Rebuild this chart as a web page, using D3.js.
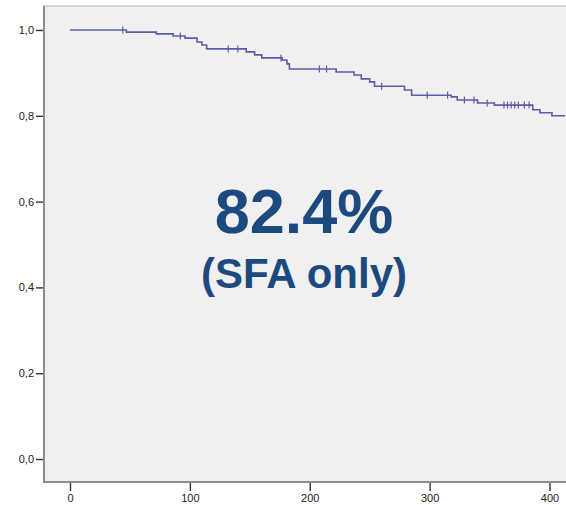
<!DOCTYPE html>
<html lang="en">
<head>
  <meta charset="utf-8">
  <title>SFA survival</title>
  <script src="https://cdn.jsdelivr.net/npm/d3@7"></script>
  <style>
    body { margin: 0; background: #ffffff; }
    svg { display: block; }
  </style>
</head>
<body>
<script>
  // event times (days) and survival after each event
  var eventTimes = [0, 47, 72, 86, 96, 106, 110, 114, 147, 154, 160, 177, 181, 183,
    222, 237, 243, 250, 254, 279, 285, 318, 323, 340, 354, 386, 392, 402, 413];
  var survival = [1.000, 0.995, 0.991, 0.986, 0.981, 0.972, 0.965, 0.956, 0.949, 0.942,
    0.935, 0.930, 0.921, 0.909, 0.902, 0.895, 0.886, 0.879, 0.869, 0.860, 0.848,
    0.844, 0.837, 0.830, 0.825, 0.814, 0.807, 0.800, 0.800];
  // censored observations (days)
  var censorTimes = [44, 92, 132, 140, 176, 208, 214, 260, 298, 315, 329, 337, 348,
    362, 365, 368, 371, 374, 379, 383];
  var xTicks = [0, 100, 200, 300, 400];
  var yTicks = [0, 0.2, 0.4, 0.6, 0.8, 1.0];

  var w = 566, h = 505;
  var mLeft = 44, mTop = 6, mBottom = 482;

  var svg = d3.select("body").append("svg")
    .attr("width", w)
    .attr("height", h);

  var x = d3.scaleLinear().domain([0, 400]).range([70, 549.5]);
  var y = d3.scaleLinear().domain([0, 1]).range([459, 30]);

  // plot background
  svg.append("rect")
    .attr("x", mLeft)
    .attr("y", mTop)
    .attr("width", w - mLeft + 5)
    .attr("height", mBottom - mTop)
    .attr("fill", "#f0f0f0")
    .attr("stroke", "#b8b8b8")
    .attr("stroke-width", 1);

  // axes
  var yAxis = d3.axisLeft(y).tickValues(yTicks).tickSize(8).tickPadding(2)
    .tickFormat(function (d) { return d3.format(".1f")(d).replace(".", ","); });
  var xAxis = d3.axisBottom(x).tickValues(xTicks).tickSize(9).tickPadding(3)
    .tickFormat(d3.format("d"));

  var gy = svg.append("g")
    .attr("transform", "translate(" + mLeft + ",0)")
    .call(yAxis);
  var gx = svg.append("g")
    .attr("transform", "translate(0," + mBottom + ")")
    .call(xAxis);

  [gx, gy].forEach(function (g) {
    g.select(".domain").remove();
    g.selectAll(".tick line").attr("stroke", "#333").attr("stroke-width", 1.4);
    g.selectAll(".tick text")
      .attr("fill", "#222")
      .attr("font-family", "Arial, 'Liberation Sans', sans-serif")
      .attr("font-size", "11px");
  });

  // axis lines
  svg.append("line")
    .attr("x1", mLeft).attr("x2", mLeft)
    .attr("y1", mTop).attr("y2", mBottom + 1)
    .attr("stroke", "#8c8c8c").attr("stroke-width", 2);
  svg.append("line")
    .attr("x1", mLeft).attr("x2", w)
    .attr("y1", mBottom).attr("y2", mBottom)
    .attr("stroke", "#8c8c8c").attr("stroke-width", 2);

  // survival curve
  var pts = eventTimes.map(function (t, i) { return [t, survival[i]]; });
  var line = d3.line()
    .x(function (d) { return x(d[0]); })
    .y(function (d) { return y(d[1]); })
    .curve(d3.curveStepAfter);

  svg.append("path")
    .datum(pts)
    .attr("d", line)
    .attr("fill", "none")
    .attr("stroke", "#5b5ca8")
    .attr("stroke-width", 1.6);

  // survival at time t
  function survAt(t) {
    var s = 1;
    for (var i = 0; i < eventTimes.length; i++) {
      if (eventTimes[i] <= t) s = survival[i];
    }
    return s;
  }

  svg.append("g")
    .selectAll("line")
    .data(censorTimes)
    .enter()
    .append("line")
    .attr("x1", function (d) { return x(d); })
    .attr("x2", function (d) { return x(d); })
    .attr("y1", function (d) { return y(survAt(d)) - 3.5; })
    .attr("y2", function (d) { return y(survAt(d)) + 3.5; })
    .attr("stroke", "#5b5ca8")
    .attr("stroke-width", 1.2);

  // annotation
  svg.append("text")
    .attr("x", 304)
    .attr("y", 233)
    .attr("text-anchor", "middle")
    .attr("font-family", "Arial, 'Liberation Sans', sans-serif")
    .attr("font-weight", "bold")
    .attr("font-size", "63px")
    .attr("fill", "#1d4a7e")
    .text("82.4%");

  svg.append("text")
    .attr("x", 304)
    .attr("y", 288)
    .attr("text-anchor", "middle")
    .attr("font-family", "Arial, 'Liberation Sans', sans-serif")
    .attr("font-weight", "bold")
    .attr("font-size", "42px")
    .attr("fill", "#1d4a7e")
    .text("(SFA only)");
</script>
</body>
</html>
